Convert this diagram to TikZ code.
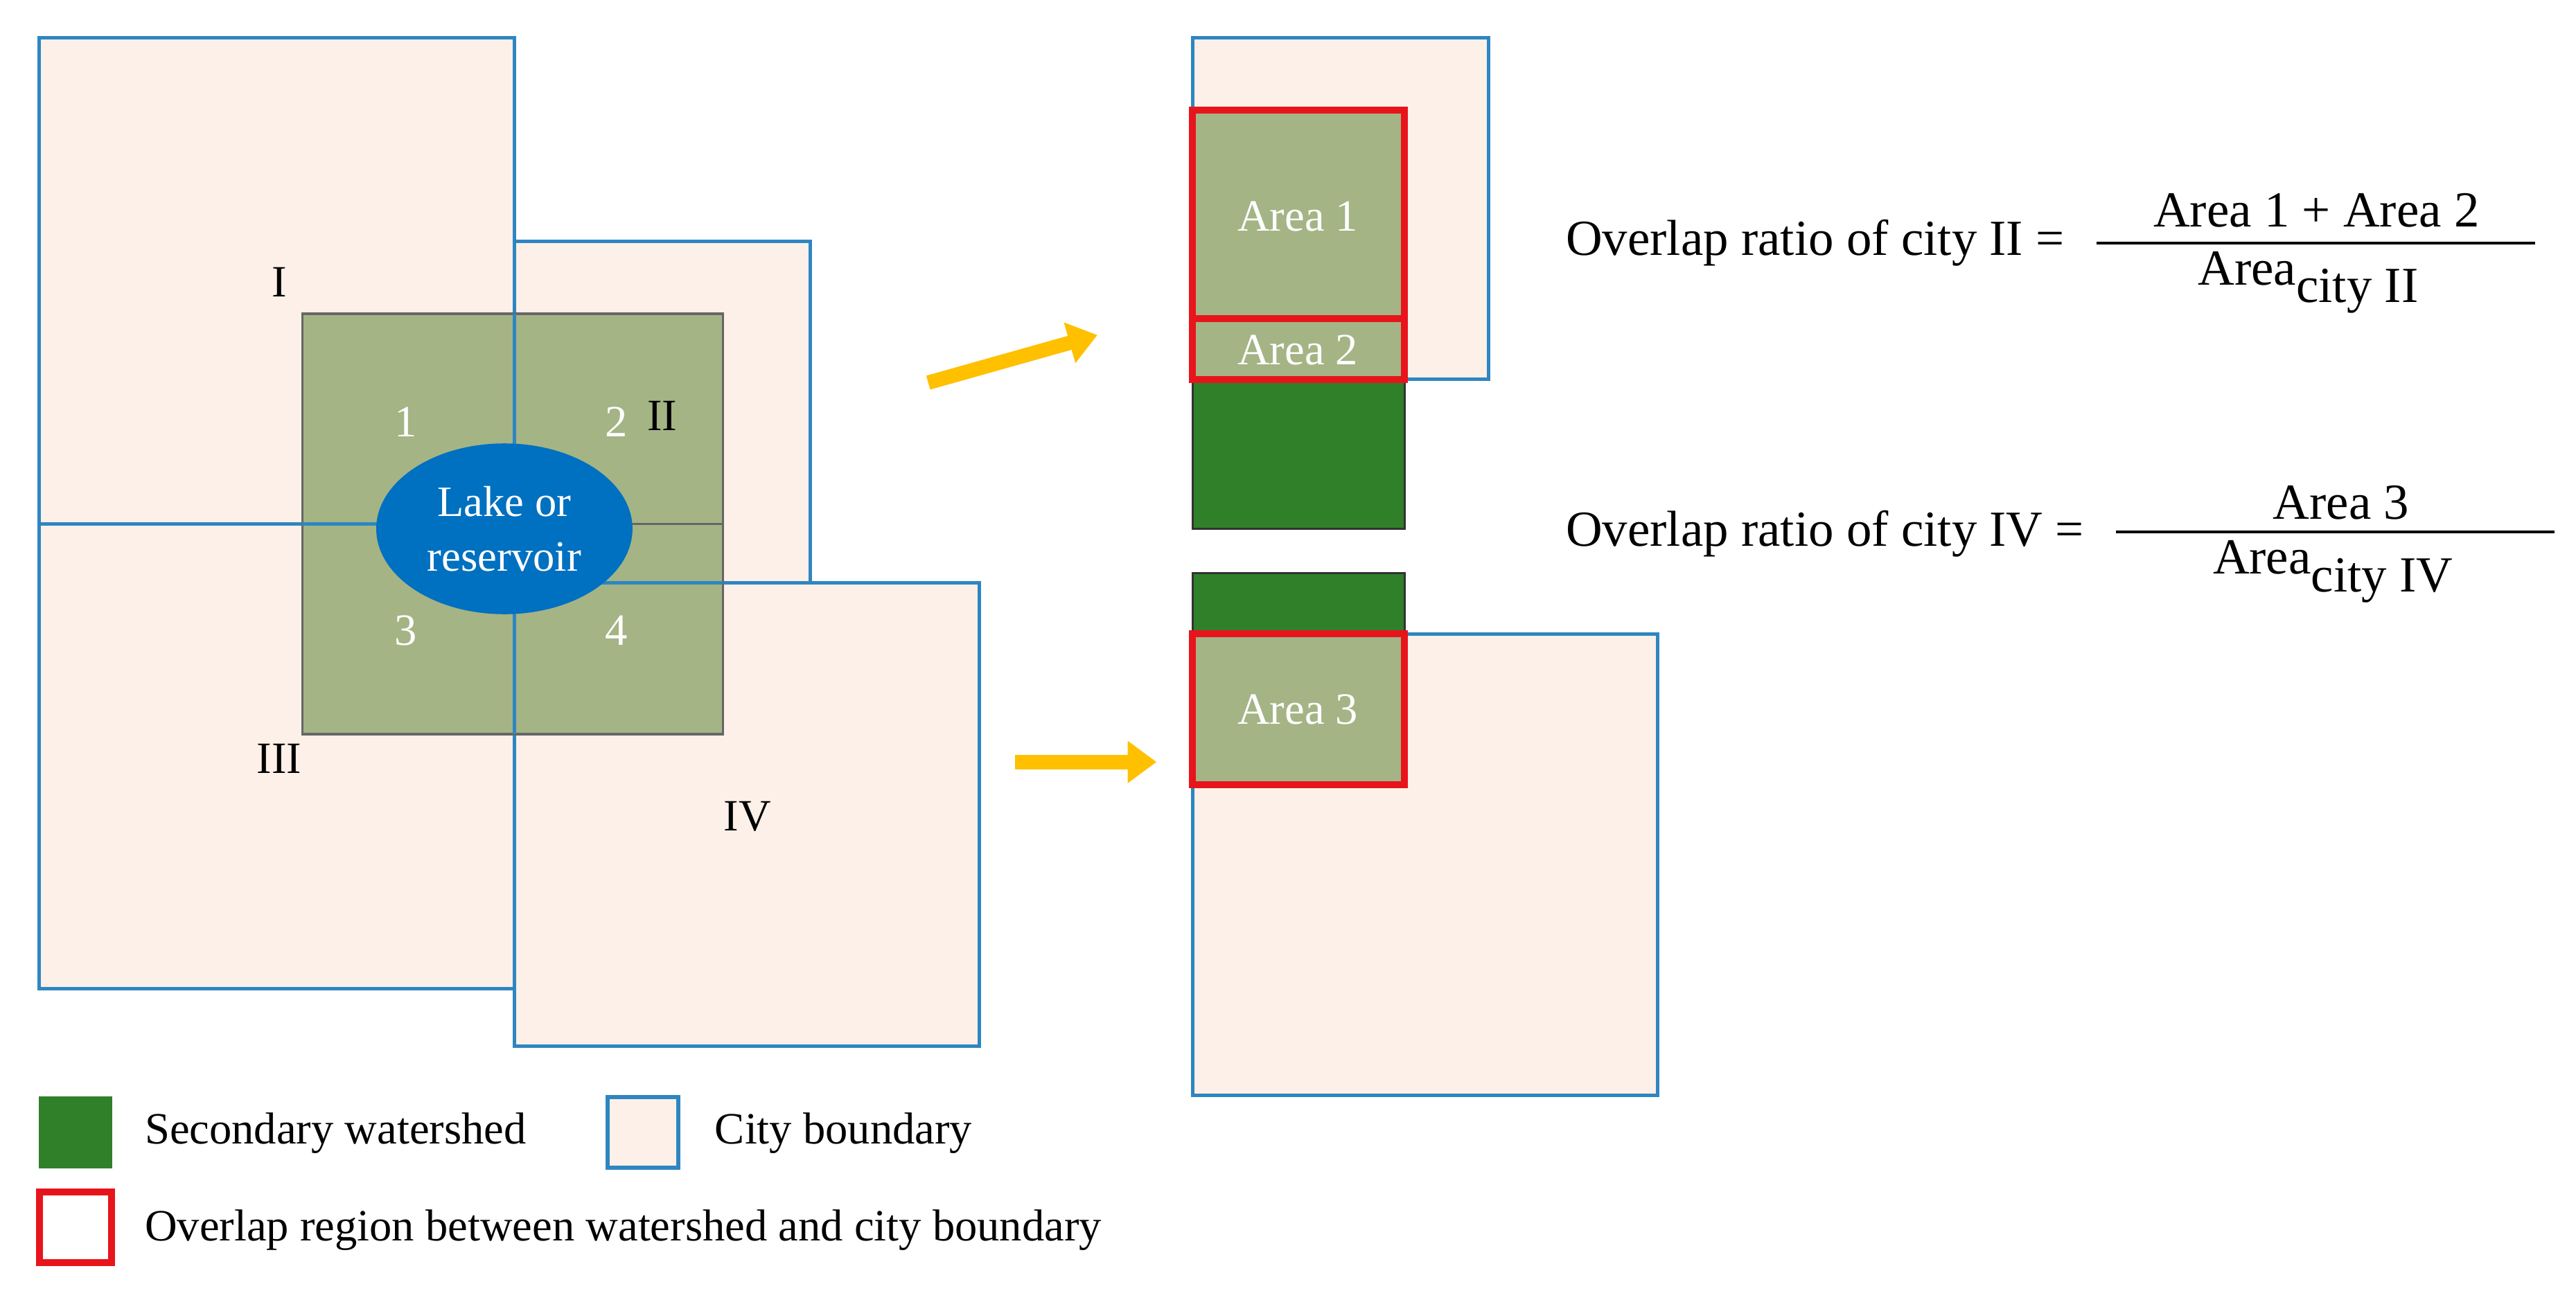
\documentclass[tikz,border=0pt]{standalone}
\usepackage{fontspec}
\setmainfont{Liberation Serif}
\usetikzlibrary{arrows.meta,shapes.geometric}
\definecolor{cityfill}{HTML}{FDF0E8}
\definecolor{cityline}{HTML}{2E86C1}
\definecolor{olive}{HTML}{A4B485}
\definecolor{dgreen}{HTML}{30802A}
\definecolor{lake}{HTML}{0070C0}
\definecolor{ayellow}{HTML}{FFC000}
\definecolor{ared}{HTML}{E8141C}
\tikzset{
 city/.style={fill=cityfill,draw=cityline,line width=1.2pt},
 shed/.style={fill=olive,draw=gray!80!black,line width=0.8pt},
 dshed/.style={fill=dgreen,draw=black!80,line width=0.8pt},
 ovl/.style={draw=ared,line width=2.4pt},
 lbl/.style={font=\fontsize{15.5}{18}\selectfont},
 flbl/.style={font=\fontsize{17.5}{20}\selectfont},
 wlbl/.style={font=\fontsize{15.5}{18}\selectfont,text=white},
 yarrow/.style={draw=ayellow,line width=5pt,-{Triangle[length=10pt,width=14pt]}},
}
\begin{document}
\begin{tikzpicture}[x=0.02cm,y=-0.02cm]
\useasboundingbox (0,0) rectangle (1568,786);
% cities left
\draw[city] (24,23) rectangle (313,319);
\draw[city] (24,319) rectangle (313,602);
\draw[city] (313,147) rectangle (493,355);
\draw[city] (313,355) rectangle (596,637);
% watershed
\draw[shed] (184,191) rectangle (440,447);
\draw[gray!80!black,line width=0.8pt] (313,191) -- (313,447);
\draw[gray!80!black,line width=0.8pt] (184,319) -- (440,319);
\draw[cityline,line width=1.2pt] (313,191) -- (313,447);
\draw[cityline,line width=1.2pt] (184,319) -- (313,319);
\draw[cityline,line width=1.2pt] (313,355) -- (440,355);
\node[ellipse,fill=lake,inner sep=0pt,
  minimum width=3.12cm,minimum height=2.08cm,align=center,text=white,font=\fontsize{15}{19}\selectfont] (lake) at (307,322) {Lake or\\reservoir};
\node[lbl] (cI) at (170,172) {I};
\node[lbl] (cII) at (403,253) {II};
\node[lbl] (cIII) at (170,462) {III};
\node[lbl] (cIV) at (455,497) {IV};
\node[wlbl] (n1) at (247,257) {1};
\node[wlbl] (n2) at (375,257) {2};
\node[wlbl] (n3) at (247,384) {3};
\node[wlbl] (n4) at (375,384) {4};
% arrows
\coordinate (a1s) at (565,233); \coordinate (a1e) at (668,204);
\coordinate (a2s) at (618,464); \coordinate (a2e) at (704,464);
\draw[yarrow] (a1s) -- (a1e);
\draw[yarrow] (a2s) -- (a2e);
% right top
\draw[city] (726,23) rectangle (906,231);
\fill[olive] (726,67) rectangle (855,231);
\draw[dshed] (726,231) rectangle (855,322);
\draw[ovl] (726,67) rectangle (855,194);
\draw[ovl] (726,194) rectangle (855,231);
\node[wlbl] (ar1) at (790,132) {Area 1};
\node[wlbl] (ar2) at (790,213) {Area 2};
% right bottom
\draw[dshed] (726,349) rectangle (855,386);
\draw[city] (726,386) rectangle (1009,667);
\fill[olive] (726,386) rectangle (855,478);
\draw[ovl] (726,386) rectangle (855,478);
\node[wlbl] (ar3) at (790,432) {Area 3};
% formulas
\node[flbl,anchor=west] (f1) at (947,148) {Overlap ratio of city II =};
\draw[line width=1pt] (1276,148) -- (1543,148);
\node[flbl] (f1n) at (1410,128) {Area 1 + Area 2};
\node[flbl] (f1d) at (1405,172) {Area\raisebox{-0.35em}{city II}};
\node[flbl,anchor=west] (f2) at (947,325) {Overlap ratio of city IV =};
\draw[line width=1pt] (1288,324) -- (1555,324);
\node[flbl] (f2n) at (1425,306) {Area 3};
\node[flbl] (f2d) at (1420,348) {Area\raisebox{-0.35em}{city IV}};
% legend
\draw[fill=dgreen,draw=dgreen] (24,668) rectangle (68,711);
\node[lbl,anchor=west] (l1) at (82,690) {Secondary watershed};
\draw[fill=cityfill,draw=cityline,line width=1.5pt] (370,668) rectangle (413,711);
\node[lbl,anchor=west] (l2) at (429,690) {City boundary};
\draw[draw=ared,line width=2.4pt] (24,726) rectangle (68,769);
\node[lbl,anchor=west] (l3) at (82,749) {Overlap region between watershed and city boundary};
\end{tikzpicture}
\end{document}
